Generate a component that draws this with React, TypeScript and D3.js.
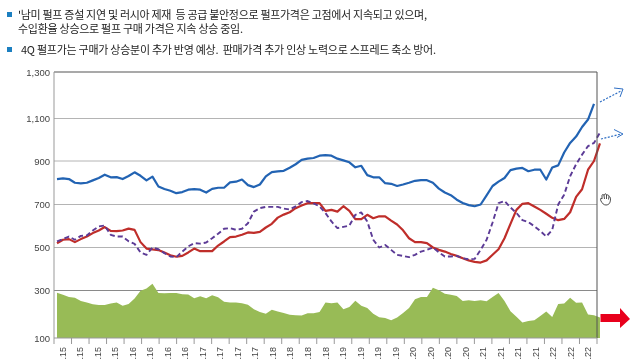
import React from "react";
import * as d3 from "d3";

const quarters = [
  "1Q15","2Q15","3Q15","4Q15","1Q16","2Q16","3Q16","4Q16",
  "1Q17","2Q17","3Q17","4Q17","1Q18","2Q18","3Q18","4Q18",
  "1Q19","2Q19","3Q19","4Q19","1Q20","2Q20","3Q20","4Q20",
  "1Q21","2Q21","3Q21","4Q21","1Q22","2Q22","3Q22",
];
const quarterLabels = quarters.map((q) => "." + q.slice(2));
const yTicks = [100, 300, 500, 700, 900, 1100, 1300];
const yTickLabels = ["100", "300", "500", "700", "900", "1,100", "1,300"];

const bluePulp = [
  817,820,817,800,797,800,811,822,837,825,826,817,831,848,832,811,828,783,771,763,752,757,768,771,768,755,772,777,
  777,802,805,815,789,780,792,829,849,852,855,869,885,905,911,914,925,928,925,911,903,894,871,878,835,825,825,798,795,785,792,800,809,812,
  812,800,773,755,743,722,707,697,692,700,742,785,805,822,858,865,868,853,860,860,815,870,880,940,985,1015,1060,1095,1163,
];
const purplePulp = [
  528,539,551,536,554,556,579,598,602,559,551,551,529,517,477,466,500,492,474,458,455,481,505,520,518,523,543,564,
  587,590,582,587,613,667,683,689,689,689,681,677,691,711,716,705,691,660,621,590,596,602,652,663,621,536,500,512,489,466,461,455,466,481,489,
  500,478,458,458,461,450,445,447,489,536,616,706,716,686,661,627,618,599,577,551,582,700,745,830,885,930,970,985,1034,
];
const redPulp = [
  520,536,539,525,539,551,567,579,595,577,576,579,588,582,525,495,491,488,477,464,457,461,477,495,483,483,483,509,
  528,548,551,559,570,568,573,593,610,639,653,664,683,695,706,706,706,670,675,667,692,670,632,632,652,636,645,645,625,607,580,543,525,525,520,
  500,489,481,470,461,450,440,433,430,440,466,492,543,610,675,703,706,691,675,657,638,627,633,664,735,770,860,900,983,
];
const greenSpread = [
  291,282,273,269,256,249,242,239,239,245,249,236,243,266,299,309,331,290,288,289,289,284,283,267,276,267,280,272,
  253,250,249,246,240,221,209,202,219,212,205,198,196,195,204,204,209,250,246,250,221,231,257,236,226,202,187,184,175,186,205,226,263,273,273,
  313,301,286,282,277,256,259,256,259,255,273,290,256,213,190,165,172,175,193,212,188,243,245,269,248,249,199,196,186,
];

const noteLines = [
  "'남미 펄프 증설 지연 및 러시아 제재  등 공급 불안정으로 펄프가격은 고점에서 지속되고 있으며,",
  "수입환율 상승으로 펄프 구매 가격은 지속 상승 중임.",
  "4Q 펄프가는 구매가 상승분이 추가 반영 예상.  판매가격 추가 인상 노력으로 스프레드 축소 방어.",
];

const L = 54, R = 597;
const y = d3.scaleLinear()
  .domain([100, 300, 500, 700, 900, 1100, 1300])
  .range([338, 290.5, 247.5, 204.5, 161, 118.5, 72]);
const monthIdx = d3.range(bluePulp.length);
const x = d3.scaleLinear().domain([0, monthIdx.length - 1]).range([57, 594]);
const xq = d3.scaleBand<string>().domain(quarters).range([L, R]);

const lineOf = (vals: number[]) =>
  d3.line<number>().x((_, i) => x(i)).y((v) => y(v))(vals) ?? "";
const greenArea =
  d3.area<number>().x((_, i) => x(i)).y0(y(100)).y1((v) => y(v))(greenSpread) ?? "";

export default function App() {
  return (
    <svg
      width={640}
      height={360}
      style={{ position: "fixed", left: 0, top: 0, background: "#fff" }}
      fontFamily="'Noto Sans CJK KR', sans-serif"
    >
      <defs>
        <filter id="soft" x="-2%" y="-2%" width="104%" height="104%">
          <feGaussianBlur stdDeviation="0.35" />
        </filter>
      </defs>
      <g filter="url(#soft)">
        <rect x={7} y={12} width={5} height={5} fill="#1f7fc0" />
        <rect x={7} y={47} width={5} height={5} fill="#1f7fc0" />
        <text x={18} y={18.5} fontSize={11} fill="#222" textLength={409} lengthAdjust="spacing" xmlSpace="preserve">{noteLines[0]}</text>
        <text x={18} y={33} fontSize={11} fill="#222" textLength={225} lengthAdjust="spacing">{noteLines[1]}</text>
        <text x={21} y={54} fontSize={11} fill="#222" textLength={415} lengthAdjust="spacing" xmlSpace="preserve">{noteLines[2]}</text>

        {yTicks.filter((t) => t > 100 && t < 1300).map((t) => (
          <line key={t} x1={L} x2={R} y1={y(t)} y2={y(t)} stroke={t === 300 ? "#8a8a8a" : "#b4b4b4"} strokeWidth={1} />
        ))}
        <path d={greenArea} fill="#98bb57" />
        <path d={lineOf(bluePulp)} fill="none" stroke="#2263b3" strokeWidth={2.2} strokeLinejoin="round" />
        <path d={lineOf(redPulp)} fill="none" stroke="#bf2d2a" strokeWidth={2.2} strokeLinejoin="round" />
        <path d={lineOf(purplePulp)} fill="none" stroke="#5b3a96" strokeWidth={1.9} strokeDasharray="5 3" strokeLinejoin="round" />

        <line x1={L} x2={R} y1={y(1300)} y2={y(1300)} stroke="#555" strokeWidth={1} />
        <line x1={L} x2={L} y1={y(1300)} y2={y(100)} stroke="#999" strokeWidth={1} />
        <line x1={R} x2={R} y1={y(1300)} y2={y(100)} stroke="#555" strokeWidth={1} />
        <line x1={L} x2={R} y1={y(100)} y2={y(100)} stroke="#999" strokeWidth={1} />

        {yTicks.map((t, i) => (
          <text key={t} x={50} y={y(t) + 3.5} textAnchor="end" fontSize={9.5} fill="#444" fontFamily="'Liberation Sans', sans-serif">
            {yTickLabels[i]}
          </text>
        ))}
        {[...quarters.map((q) => xq(q) as number), R].map((tx) => (
          <line key={tx} x1={tx} x2={tx} y1={y(100)} y2={344} stroke="#999" strokeWidth={1} />
        ))}
        {quarters.map((q, i) => {
          const cx = (xq(q) as number) + xq.bandwidth() / 2;
          return (
            <text key={q} transform={`translate(${cx + 3},347) rotate(-90)`} textAnchor="end" fontSize={9} fill="#444" fontFamily="'Liberation Sans', sans-serif">
              {quarterLabels[i]}
            </text>
          );
        })}

        <line x1={600} y1={102} x2={621} y2={91} stroke="#2f6fc4" strokeWidth={1.2} strokeDasharray="2 1.5" />
        <path d="M614,88 L623,89 L620,97" fill="none" stroke="#2f6fc4" strokeWidth={1} />
        <line x1={601} y1={139} x2={621} y2={134} stroke="#2f6fc4" strokeWidth={1.2} strokeDasharray="2 1.5" />
        <path d="M614,129.5 L623,134 L617,137.5" fill="none" stroke="#2f6fc4" strokeWidth={1} />

        <path
          d="M600.5,314 L620,314 L620,308 L630,319 L620,328 L620,322 L600.5,322 Z"
          fill="#e8001c"
        />
        <path
          d="M601,201 C600,199 600.5,197.5 602,199 L602,195.5 C602.5,194 603.5,194 604,195.5 L604.5,194.5 C605,193.5 606,193.5 606.5,195 L607,195 C608,194.5 609,195.5 609,196.5 L609.5,197 C610.5,197 610.5,198 610.5,199 C610.5,202 609.5,205 606,205 C603.5,205 602.5,203.5 601,201 Z M604,195.5 L604.5,199 M606.5,195 L606.5,199 M609,196.5 L608.5,199.5"
          fill="#fff"
          stroke="#222"
          strokeWidth={0.8}
        />
      </g>
    </svg>
  );
}
